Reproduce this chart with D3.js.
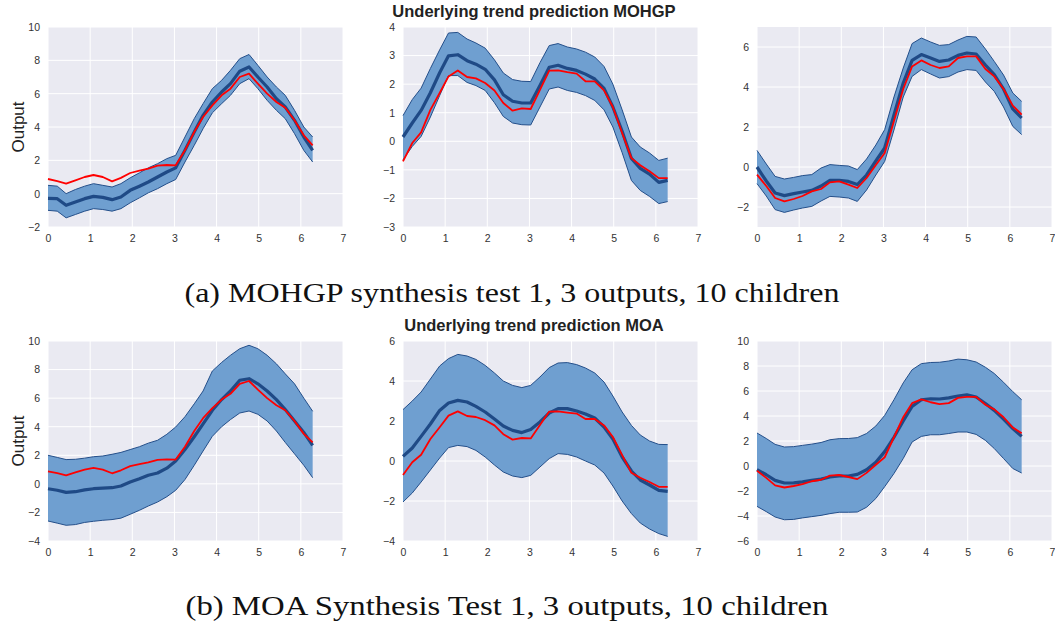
<!DOCTYPE html>
<html>
<head>
<meta charset="utf-8">
<script src="https://cdn.jsdelivr.net/npm/d3@7"></script>
<style>
  body { margin: 0; background: #fff; }
  svg { display: block; }
</style>
</head>
<body>
<div id="chart-area"></div>
<script>
//============================DATA============================
// sample locations (0 .. 2pi, 30 points)
var xs = [0, 0.22, 0.43, 0.65, 0.87, 1.08, 1.30, 1.52, 1.73, 1.95, 2.17, 2.38, 2.60, 2.82, 3.03,
          3.25, 3.47, 3.68, 3.90, 4.12, 4.33, 4.55, 4.77, 4.98, 5.20, 5.42, 5.63, 5.85, 6.07, 6.28];

// true trends (red), one per output
var true1 = [0.88, 0.75, 0.6, 0.8, 1.0, 1.12, 1.0, 0.74, 0.95, 1.24, 1.38, 1.5, 1.68, 1.72, 1.7,
             2.6, 3.7, 4.6, 5.3, 5.9, 6.3, 7.0, 7.2, 6.6, 6.0, 5.5, 5.15, 4.4, 3.5, 2.9];
var true2 = [-0.7, -0.06, 0.31, 1.1, 1.69, 2.27, 2.48, 2.25, 2.2, 2.04, 1.78, 1.34, 1.07, 1.15, 1.13,
             1.8, 2.47, 2.48, 2.42, 2.37, 2.1, 2.1, 1.78, 1.2, 0.29, -0.59, -0.84, -1.05, -1.29, -1.29];
var true3 = [-0.38, -0.95, -1.55, -1.72, -1.6, -1.45, -1.22, -1.1, -0.77, -0.72, -0.88, -1.05, -0.55, 0.1, 0.7,
             2.3, 3.9, 5.03, 5.33, 5.1, 4.95, 5.03, 5.45, 5.53, 5.53, 4.9, 4.53, 3.9, 3.07, 2.62];

// MOHGP predictions
var mohgpMean1 = [-0.28, -0.3, -0.7, -0.5, -0.3, -0.16, -0.22, -0.36, -0.2, 0.2, 0.45, 0.7, 1.0, 1.3, 1.55,
                  2.6, 3.7, 4.7, 5.5, 6.1, 6.6, 7.35, 7.6, 7.0, 6.4, 5.7, 5.2, 4.4, 3.4, 2.6];
var mohgpUp1   = [0.5, 0.45, 0.0, 0.25, 0.45, 0.6, 0.5, 0.4, 0.6, 0.95, 1.25, 1.55, 1.8, 2.1, 2.3,
                  3.4, 4.5, 5.4, 6.3, 6.8, 7.4, 8.1, 8.35, 7.7, 7.0, 6.4, 5.9, 5.0, 4.0, 3.4];
var mohgpLo1   = [-1.0, -1.05, -1.45, -1.25, -1.05, -0.9, -0.95, -1.05, -0.9, -0.55, -0.25, 0.05, 0.3, 0.6, 0.85,
                  1.9, 2.9, 3.9, 4.85, 5.4, 5.9, 6.6, 6.9, 6.3, 5.6, 5.0, 4.5, 3.6, 2.6, 1.9];

var mohgpMean2 = [0.15, 0.64, 1.08, 1.7, 2.4, 2.99, 3.03, 2.82, 2.7, 2.52, 2.15, 1.63, 1.4, 1.34, 1.34,
                  1.95, 2.59, 2.66, 2.55, 2.48, 2.35, 2.18, 1.85, 1.2, 0.35, -0.6, -0.95, -1.15, -1.44, -1.37];
var mohgpUp2   = [0.9, 1.46, 1.86, 2.55, 3.2, 3.79, 3.81, 3.58, 3.44, 3.26, 2.85, 2.39, 2.16, 2.1, 2.09,
                  2.75, 3.35, 3.42, 3.3, 3.23, 3.12, 2.95, 2.62, 2.0, 1.1, 0.15, -0.2, -0.41, -0.67, -0.59];
var mohgpLo2   = [-0.65, -0.18, 0.17, 0.85, 1.6, 2.3, 2.3, 2.06, 1.95, 1.78, 1.35, 0.87, 0.64, 0.58, 0.57,
                  1.2, 1.83, 1.9, 1.78, 1.71, 1.6, 1.43, 1.1, 0.5, -0.4, -1.37, -1.72, -1.93, -2.18, -2.11];

var mohgpMean3 = [0.0, -0.7, -1.3, -1.43, -1.33, -1.25, -1.17, -0.95, -0.67, -0.67, -0.72, -0.88, -0.4, 0.3, 0.95,
                  2.6, 4.2, 5.33, 5.62, 5.45, 5.28, 5.35, 5.58, 5.7, 5.65, 5.1, 4.62, 3.9, 2.9, 2.45];
var mohgpUp3   = [0.83, 0.15, -0.47, -0.6, -0.52, -0.43, -0.38, -0.05, 0.12, 0.08, 0.05, -0.13, 0.4, 1.1, 1.87,
                  3.5, 4.95, 6.17, 6.45, 6.25, 6.08, 6.12, 6.35, 6.53, 6.5, 5.9, 5.28, 4.6, 3.7, 3.28];
var mohgpLo3   = [-0.83, -1.45, -2.13, -2.27, -2.15, -2.05, -1.97, -1.7, -1.47, -1.5, -1.55, -1.72, -1.15, -0.4, 0.28,
                  1.85, 3.5, 4.53, 4.87, 4.65, 4.45, 4.52, 4.75, 4.87, 4.83, 4.25, 3.78, 3.0, 2.03, 1.62];

// MOA predictions
var moaMean1 = [-0.34, -0.45, -0.6, -0.55, -0.42, -0.34, -0.3, -0.27, -0.15, 0.13, 0.35, 0.6, 0.76, 1.1, 1.6,
                2.4, 3.3, 4.2, 5.15, 5.9, 6.5, 7.25, 7.36, 7.0, 6.5, 5.9, 5.2, 4.4, 3.6, 2.7];
var moaUp1   = [2.0, 1.85, 1.7, 1.72, 1.8, 1.9, 1.95, 2.07, 2.2, 2.4, 2.6, 2.85, 3.05, 3.47, 3.98,
                4.7, 5.6, 6.5, 7.9, 8.5, 9.0, 9.46, 9.7, 9.46, 9.0, 8.4, 7.7, 7.0, 6.0, 5.08];
var moaLo1   = [-2.6, -2.75, -2.9, -2.85, -2.7, -2.62, -2.55, -2.5, -2.4, -2.13, -1.85, -1.55, -1.27, -0.9, -0.45,
                0.3, 1.3, 2.3, 3.33, 4.0, 4.5, 4.96, 5.1, 4.87, 4.4, 3.7, 2.9, 2.1, 1.3, 0.43];

var moaMean2 = [0.23, 0.65, 1.23, 1.85, 2.53, 2.9, 3.03, 2.95, 2.73, 2.45, 2.1, 1.75, 1.53, 1.42, 1.57,
                1.95, 2.4, 2.62, 2.62, 2.5, 2.35, 2.15, 1.7, 1.1, 0.2, -0.5, -0.95, -1.2, -1.47, -1.52];
var moaUp2   = [2.57, 3.0, 3.45, 4.1, 4.75, 5.12, 5.33, 5.25, 5.08, 4.78, 4.4, 4.0, 3.78, 3.67, 3.78,
                4.2, 4.67, 4.9, 4.92, 4.82, 4.65, 4.4, 3.95, 3.25, 2.45, 1.78, 1.3, 1.0, 0.83, 0.82];
var moaLo2   = [-2.05, -1.6, -1.05, -0.45, 0.15, 0.67, 0.78, 0.72, 0.53, 0.2, -0.2, -0.55, -0.75, -0.83, -0.72,
                -0.3, 0.12, 0.37, 0.33, 0.2, 0.0, -0.2, -0.6, -1.25, -2.0, -2.63, -3.1, -3.4, -3.63, -3.77];

var moaMean3 = [-0.29, -0.7, -1.15, -1.36, -1.35, -1.27, -1.15, -1.05, -0.88, -0.8, -0.8, -0.67, -0.3, 0.3, 1.15,
                2.3, 3.6, 4.77, 5.3, 5.38, 5.36, 5.45, 5.6, 5.7, 5.52, 5.0, 4.45, 3.75, 3.0, 2.37];
var moaUp3   = [2.64, 2.2, 1.73, 1.52, 1.55, 1.65, 1.75, 1.88, 2.1, 2.19, 2.2, 2.27, 2.6, 3.2, 4.05,
                5.3, 6.65, 7.7, 8.19, 8.28, 8.3, 8.4, 8.55, 8.5, 8.32, 7.9, 7.4, 6.7, 5.95, 5.3];
var moaLo3   = [-3.23, -3.65, -4.08, -4.3, -4.27, -4.15, -4.05, -3.95, -3.81, -3.7, -3.7, -3.68, -3.3, -2.6, -1.65,
                -0.6, 0.6, 1.92, 2.37, 2.5, 2.5, 2.6, 2.72, 2.72, 2.53, 2.05, 1.4, 0.6, -0.2, -0.56];

// axis ranges / ticks
var xTicks = [0, 1, 2, 3, 4, 5, 6, 7];
var yDomains = [[-2, 10], [-3, 4], [-3, 7], [-4, 10], [-4, 6], [-6, 10]];
var yTicks = [[-2, 0, 2, 4, 6, 8, 10], [-3, -2, -1, 0, 1, 2, 3, 4], [-2, 0, 2, 4, 6],
              [-4, -2, 0, 2, 4, 6, 8, 10], [-4, -2, 0, 2, 4, 6], [-6, -4, -2, 0, 2, 4, 6, 8, 10]];

var rowTitles = ["Underlying trend prediction MOHGP", "Underlying trend prediction MOA"];
var captions = ["(a) MOHGP synthesis test 1, 3 outputs, 10 children",
                "(b) MOA Synthesis Test 1, 3 outputs, 10 children"];

//============================LAYOUT============================
var W = 1055, H = 624;
var colX = [48, 403, 757];
var plotW = 295, plotH = 200;
var rowY = [27, 341];

var panels = [
  { truth: true1, mean: mohgpMean1, up: mohgpUp1, lo: mohgpLo1 },
  { truth: true2, mean: mohgpMean2, up: mohgpUp2, lo: mohgpLo2 },
  { truth: true3, mean: mohgpMean3, up: mohgpUp3, lo: mohgpLo3 },
  { truth: true1, mean: moaMean1, up: moaUp1, lo: moaLo1 },
  { truth: true2, mean: moaMean2, up: moaUp2, lo: moaLo2 },
  { truth: true3, mean: moaMean3, up: moaUp3, lo: moaLo3 }
];

var svg = d3.select("#chart-area")
    .append("svg")
    .attr("width", W)
    .attr("height", H)
    .style("font-family", "Arial, 'Liberation Sans', sans-serif");

var x = d3.scaleLinear().domain([0, 7]).range([0, plotW]);

panels.forEach(function(p, i) {
    var row = Math.floor(i / 3), col = i % 3;
    var y = d3.scaleLinear().domain(yDomains[i]).range([plotH, 0]);

    var g = svg.append("g")
        .attr("transform", "translate(" + colX[col] + "," + rowY[row] + ")");

    g.append("rect")
        .attr("width", plotW)
        .attr("height", plotH)
        .attr("fill", "#eaeaf2");

    // grid
    g.selectAll(".vgrid").data(xTicks).enter().append("line")
        .attr("x1", function(d){ return x(d); }).attr("x2", function(d){ return x(d); })
        .attr("y1", 0).attr("y2", plotH)
        .attr("stroke", "#fff").attr("stroke-width", 1);
    g.selectAll(".hgrid").data(yTicks[i]).enter().append("line")
        .attr("y1", function(d){ return y(d); }).attr("y2", function(d){ return y(d); })
        .attr("x1", 0).attr("x2", plotW)
        .attr("stroke", "#fff").attr("stroke-width", 1);

    var xAxisCall = d3.axisBottom(x).tickValues(xTicks).tickSize(0).tickPadding(8)
        .tickFormat(d3.format("d"));
    var yAxisCall = d3.axisLeft(y).tickValues(yTicks[i]).tickSize(0).tickPadding(8)
        .tickFormat(function(d){ return d < 0 ? "\u2212" + Math.abs(d) : d; });

    var xa = g.append("g").attr("transform", "translate(0," + plotH + ")").call(xAxisCall);
    var ya = g.append("g").call(yAxisCall);
    [xa, ya].forEach(function(a) {
        a.select(".domain").remove();
        a.selectAll("text").attr("font-size", "10.5px").attr("fill", "#333")
            .attr("font-family", "Arial, 'Liberation Sans', sans-serif");
    });

    var pts = xs.map(function(d, k){ return { x: d, m: p.mean[k], u: p.up[k], l: p.lo[k], t: p.truth[k] }; });

    var area = d3.area()
        .x(function(d){ return x(d.x); })
        .y0(function(d){ return y(d.l); })
        .y1(function(d){ return y(d.u); });
    g.append("path").datum(pts).attr("d", area).attr("fill", "#6f9fd0");

    var edge = function(key) {
        return d3.line().x(function(d){ return x(d.x); }).y(function(d){ return y(d[key]); });
    };
    g.append("path").datum(pts).attr("d", edge("u")).attr("fill", "none")
        .attr("stroke", "#244f8a").attr("stroke-width", 1);
    g.append("path").datum(pts).attr("d", edge("l")).attr("fill", "none")
        .attr("stroke", "#244f8a").attr("stroke-width", 1);
    g.append("path").datum(pts).attr("d", edge("m")).attr("fill", "none")
        .attr("stroke", "#1f4a86").attr("stroke-width", 3.2).attr("stroke-linejoin", "round");
    g.append("path").datum(pts).attr("d", edge("t")).attr("fill", "none")
        .attr("stroke", "#ff0000").attr("stroke-width", 1.8).attr("stroke-linejoin", "round");

    if (col === 0) {
        g.append("text")
            .attr("transform", "translate(-24," + (plotH / 2) + ") rotate(-90)")
            .attr("text-anchor", "middle")
            .attr("font-size", "17px")
            .attr("fill", "#222")
            .text("Output");
    }
});

// row titles
[17, 331].forEach(function(yy, r) {
    svg.append("text")
        .attr("x", 534).attr("y", yy)
        .attr("text-anchor", "middle")
        .attr("font-size", "16.5px")
        .attr("font-weight", "bold")
        .attr("fill", "#222")
        .text(rowTitles[r]);
});

// captions
[[512, 302, 655], [507, 615, 643]].forEach(function(c, r) {
    svg.append("text")
        .attr("x", c[0]).attr("y", c[1])
        .attr("text-anchor", "middle")
        .attr("font-family", "'Liberation Serif', 'DejaVu Serif', serif")
        .attr("font-size", "27px")
        .attr("textLength", c[2])
        .attr("lengthAdjust", "spacingAndGlyphs")
        .attr("fill", "#111")
        .text(captions[r]);
});
</script>
</body>
</html>
